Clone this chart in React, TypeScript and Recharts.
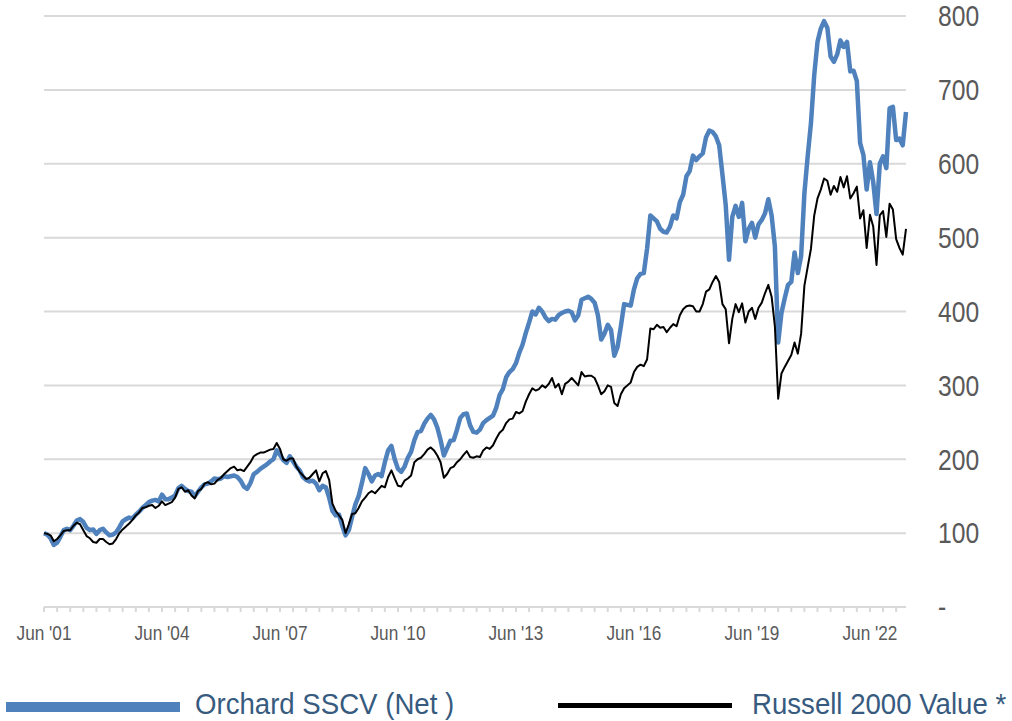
import { LineChart, Line, XAxis, YAxis, CartesianGrid } from 'recharts'

// monthly index values, Jun 2001 = 100 (264 months, Jun '01 .. May '23)
const orchard = [
  100, 98, 93, 84, 87, 95, 104, 106, 104, 110, 117, 119,
  115, 107, 104, 105, 99, 104, 106, 101, 97, 98, 101, 108,
  116, 119, 121, 120, 125, 129, 134, 138, 142, 144, 145, 143,
  152, 146, 146, 148, 151, 161, 164, 160, 157, 156, 150, 156,
  162, 166, 167, 170, 174, 173, 174, 177, 176, 177, 178, 176,
  171, 163, 160, 168, 180, 183, 187, 190, 193, 197, 200, 212,
  206, 199, 195, 204, 197, 190, 185, 176, 172, 170, 171, 167,
  158, 164, 162, 148, 130, 124, 125, 110, 97, 104, 122, 139,
  150, 168, 188, 180, 170, 178, 180, 177, 196, 212, 218, 200,
  187, 183, 190, 202, 210, 226, 237, 238, 248, 255, 260, 254,
  243, 226, 205, 215, 225, 226, 240, 256, 261, 262, 246, 237,
  236, 240, 249, 253, 256, 259, 270, 287, 295, 311, 318, 322,
  330, 344, 355, 371, 385, 400, 396, 405, 400, 392, 387, 390,
  389, 395, 398, 400, 401, 399, 388, 395, 416, 418, 420, 417,
  412, 395, 362, 370, 382, 375, 340, 352, 380, 410, 409, 408,
  430, 445, 451, 452, 485, 530, 526, 522, 512, 508, 507, 515,
  530, 526, 548, 558, 583, 590, 611, 605, 610, 614, 636, 645,
  643, 637, 625, 585, 544, 470, 528, 543, 528, 547, 495, 512,
  520, 500, 518, 524, 533, 552, 530, 488, 358, 398, 418, 436,
  440, 480, 452, 475, 560, 610, 655, 720, 765, 783, 793, 784,
  745, 738, 748, 767, 758, 765, 725, 726, 712, 628, 612, 565,
  602, 575, 532, 600, 610, 594, 675, 677, 632, 634, 625, 670,
]

const russell = [
  100, 99, 97, 89, 92, 97, 103, 104, 104, 110, 114, 112,
  104, 96, 93, 88, 87, 92, 92, 88, 85, 86, 92, 100,
  105, 109, 113, 118, 124, 128, 134, 135, 137, 138, 134, 137,
  143, 138, 140, 142, 148, 160, 162, 156, 158, 151, 147, 157,
  160, 167, 169, 166, 167, 172, 175, 180, 184, 188, 190, 185,
  186, 184, 190, 196, 204, 207, 209, 209, 211, 213, 214, 222,
  214, 200, 198, 201, 201, 190, 183, 178, 173, 175, 180, 185,
  170, 181, 184, 172, 140, 130, 124, 118, 100, 112, 126, 127,
  134, 143, 148, 154, 157, 154, 159, 164, 162, 176, 185, 174,
  164, 163, 171, 174, 178, 196, 200, 202, 207, 213, 216, 212,
  205, 196, 175, 180, 188, 190, 196, 200, 206, 211, 203, 202,
  204, 203, 212, 216, 214, 219, 228, 236, 240, 249, 254, 255,
  264, 262, 265, 278, 288, 296, 293, 295, 300, 297, 302, 310,
  297, 302, 288, 302, 305, 310, 305, 300, 318, 312, 313, 313,
  310, 300, 288, 292, 300, 298, 276, 272, 288, 296, 300, 304,
  318, 325, 328, 326, 335, 377, 376, 382, 378, 379, 372, 378,
  383, 380, 395, 403, 407, 408, 407, 400, 400, 410, 427, 430,
  440, 448, 440, 410, 403, 357, 390, 410, 399, 411, 385, 400,
  405, 390, 405, 412, 425, 436, 420, 380, 282, 316, 325, 333,
  341, 358, 343, 370, 435, 460, 485, 530, 553, 565, 580, 577,
  558, 570, 562, 582, 568, 583, 553, 560, 569, 526, 537, 486,
  531, 515, 463, 530, 536, 501, 546, 538, 498, 486, 477, 512,
]

const xTickLabels = ["Jun '01", "Jun '04", "Jun '07", "Jun '10", "Jun '13", "Jun '16", "Jun '19", "Jun '22"]
const yTicks = [0, 100, 200, 300, 400, 500, 600, 700, 800]

const data = orchard.map((v, i) => ({ m: i, orchard: v, russell: russell[i] }))

// minor ticks every 4 months, labels every 36
const xTicks = data.filter((d) => d.m % 4 === 0).map((d) => d.m)

// no narrow font installed, so squeeze Liberation Sans horizontally
const font = "'Liberation Sans', Arial, sans-serif"

const XTick = (props: any) => {
  const { x, y, payload } = props
  const v = payload.value as number
  if (v % 36 !== 0) return null
  return (
    <g transform={`translate(${x},${y})`}>
      <text transform="scale(0.82,1)" textAnchor="middle" dy="0.71em" fontSize={21} fill="#595959" fontFamily={font}>
        {xTickLabels[v / 36]}
      </text>
    </g>
  )
}

const YTick = (props: any) => {
  const { x, y, payload } = props
  const v = payload.value as number
  return (
    <g transform={`translate(${x},${y})`}>
      <text transform="scale(0.85,1)" textAnchor="start" dy="0.355em" fontSize={29} fill="#595959" fontFamily={font}>
        {v === 0 ? '-' : String(v)}
      </text>
    </g>
  )
}

const legendText = {
  position: 'absolute' as const,
  top: 689,
  lineHeight: '30px',
  fontSize: 30,
  fontFamily: font,
  color: '#375a7f',
  whiteSpace: 'nowrap' as const,
  transform: 'scale(0.92,1)',
  transformOrigin: '0 50%',
}

export default function App() {
  return (
    <div style={{ position: 'absolute', left: 0, top: 0, width: 1012, height: 721, background: '#fff', overflow: 'hidden' }}>
      <LineChart
        width={1012}
        height={721}
        data={data}
        margin={{ top: 16, right: 0, left: 44, bottom: 74 }}
      >
        <CartesianGrid vertical={false} stroke="#d9d9d9" strokeWidth={2} />
        <XAxis
          dataKey="m"
          type="number"
          domain={[0, 263]}
          ticks={xTicks}
          interval={0}
          height={40}
          stroke="#d9d9d9"
          strokeWidth={2}
          tickSize={5}
          tickMargin={13}
          tick={<XTick />}
        />
        <YAxis
          orientation="right"
          width={106}
          domain={[0, 800]}
          ticks={yTicks}
          interval={0}
          axisLine={false}
          tickLine={false}
          tickSize={0}
          tickMargin={32}
          tick={<YTick />}
        />
        <Line
          type="linear"
          dataKey="orchard"
          stroke="#4f81bd"
          strokeWidth={4.5}
          strokeLinejoin="round"
          dot={false}
          isAnimationActive={false}
        />
        <Line
          type="linear"
          dataKey="russell"
          stroke="#000000"
          strokeWidth={2}
          strokeLinejoin="round"
          dot={false}
          isAnimationActive={false}
        />
      </LineChart>

      {/* legend */}
      <div style={{ position: 'absolute', left: 6, top: 702, width: 174, height: 10, background: '#4f81bd' }} />
      <div style={{ ...legendText, left: 195 }}>Orchard SSCV (Net )</div>
      <div style={{ position: 'absolute', left: 558, top: 703, width: 174, height: 5, background: '#000' }} />
      <div style={{ ...legendText, left: 752 }}>Russell 2000 Value *</div>
    </div>
  )
}
